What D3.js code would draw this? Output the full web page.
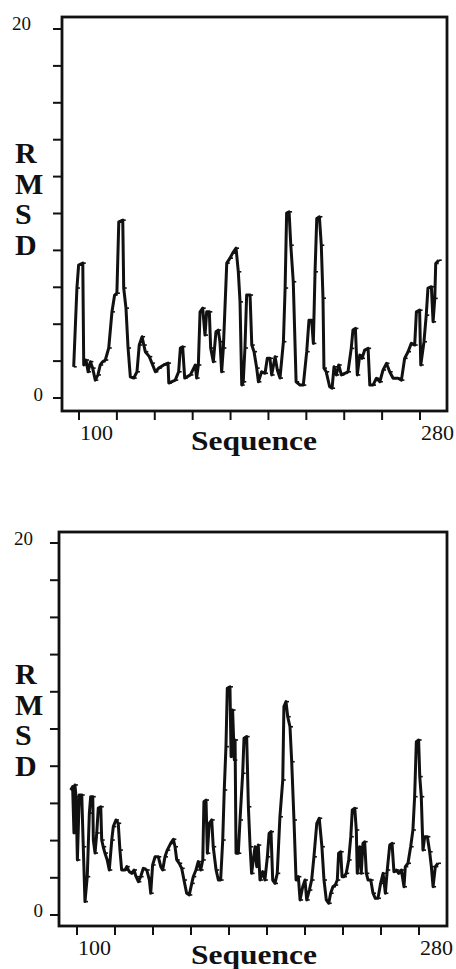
<!DOCTYPE html>
<html>
<head>
<meta charset="utf-8">
<script src="https://cdn.jsdelivr.net/npm/d3@7"></script>
<style>
  body { margin: 0; background: #fff; }
  text { font-family: "Liberation Serif", "Times New Roman", Times, serif; fill: #111; }
</style>
</head>
<body>
<svg id="chart" width="456" height="969"></svg>
<script>
// residue number / RMSD readings, upper panel
const seqTop = [97.2, 98.9, 99.8, 102.0, 102.5, 103.7, 104.8, 106.0, 107.2, 108.6, 110.0, 111.2, 112.5, 113.9,
  115.7, 117.4, 118.8, 120.0, 121.0, 123.1, 123.6, 124.8, 125.9, 127.1, 128.9, 130.6, 131.8, 133.3, 134.2,
  135.0, 137.1, 138.5, 140.3, 142.1, 144.7, 147.0, 147.4, 150.8, 152.6, 153.5, 154.7, 155.8, 158.8, 161.4,
  162.1, 163.0, 163.9, 165.3, 166.5, 167.4, 168.8, 169.5, 170.9, 172.3, 173.5, 174.4, 175.3, 176.2, 178.0,
  179.7, 181.1, 182.9, 184.1, 185.0, 185.9, 186.7, 187.6, 188.5, 190.3, 191.2, 192.4, 193.8, 194.7, 196.4,
  198.2, 199.4, 200.8, 201.7, 203.5, 204.7, 206.1, 207.9, 208.8, 209.6, 210.9, 211.8, 213.1, 214.6, 216.7,
  218.4, 220.2, 221.4, 222.8, 223.7, 224.6, 225.5, 226.9, 227.9, 228.8, 229.3, 230.5, 232.3, 233.6, 234.6,
  235.8, 237.1, 238.5, 240.3, 242.0, 243.7, 244.6, 245.9, 246.9, 248.2, 249.4, 250.8, 252.6, 253.5, 255.2,
  257.0, 258.8, 260.5, 262.3, 264.0, 265.8, 268.4, 270.2, 271.9, 273.7, 275.4, 277.2, 278.1, 279.8, 280.4,
  282.1, 283.3, 284.2, 286.0, 286.9, 287.8, 288.3, 289.9];
const rmsdTop = [1.69, 5.96, 7.20, 7.31, 1.79, 2.06, 1.42, 1.97, 1.62, 0.97, 1.25, 1.79, 1.97, 2.06,
  2.71, 4.67, 5.58, 5.68, 9.55, 9.64, 5.96, 4.87, 2.71, 1.15, 1.08, 1.42, 2.87, 3.32, 2.87,
  2.51, 2.24, 1.89, 1.42, 1.62, 1.79, 1.89, 0.81, 0.97, 1.42, 2.71, 2.78, 1.08, 1.25, 1.79,
  1.08, 1.79, 4.67, 4.87, 3.41, 4.67, 4.67, 2.71, 1.97, 3.59, 3.68, 3.05, 1.42, 2.71, 7.31,
  7.58, 7.85, 8.12, 6.84, 5.21, 0.70, 0.88, 2.71, 5.58, 5.58, 2.87, 2.51, 1.62, 0.88, 1.42,
  1.34, 2.15, 2.15, 1.25, 2.24, 1.52, 1.08, 3.05, 5.96, 10.02, 10.09, 8.28, 6.30, 0.88, 0.70,
  0.70, 2.51, 4.22, 4.22, 2.96, 6.84, 9.73, 9.82, 8.28, 5.41, 1.62, 1.42, 0.61, 0.53, 1.69,
  1.25, 1.79, 1.25, 1.34, 1.42, 2.69, 3.68, 3.77, 1.25, 2.33, 2.15, 2.60, 2.69, 0.70, 0.70,
  1.07, 0.88, 1.52, 1.88, 1.42, 1.07, 1.07, 0.97, 2.15, 2.51, 2.96, 2.87, 4.67, 4.76, 1.79,
  3.05, 4.49, 5.96, 6.03, 4.13, 5.40, 7.29, 7.47];

// residue number / RMSD readings, lower panel
const seqBottom = [96.7, 97.7, 98.4, 98.9, 99.5, 100.2, 101.2, 102.5, 103.3, 104.2, 105.4, 106.5, 107.2, 108.3,
  108.6, 109.5, 110.4, 111.2, 112.5, 113.0, 113.8, 114.7, 115.9, 117.0, 118.3, 119.1, 120.5, 121.7, 122.6,
  123.5, 125.3, 126.2, 127.5, 128.8, 130.0, 131.1, 132.3, 133.5, 134.9, 136.7, 138.1, 138.8, 139.8, 141.1,
  142.8, 144.1, 145.1, 146.3, 147.5, 149.3, 150.7, 151.6, 152.5, 153.8, 155.1, 156.3, 157.7, 159.1, 160.4,
  161.2, 162.6, 163.8, 165.1, 166.2, 166.8, 167.9, 168.6, 169.6, 170.9, 171.7, 173.2, 174.4, 175.6, 176.7,
  177.5, 178.4, 179.1, 180.5, 181.1, 181.9, 182.8, 183.2, 183.7, 184.9, 185.8, 187.2, 187.9, 189.3, 190.2,
  191.1, 191.9, 192.8, 193.7, 194.6, 195.4, 196.3, 197.7, 198.9, 200.2, 201.1, 202.1, 203.0, 204.2, 205.4,
  206.8, 208.3, 208.9, 210.0, 210.9, 212.1, 213.0, 214.2, 215.3, 216.5, 217.4, 218.8, 220.0, 220.9, 222.3,
  223.5, 224.7, 226.2, 227.5, 228.9, 230.0, 231.2, 232.5, 233.5, 234.7, 235.9, 237.0, 237.7, 238.8, 239.5,
  240.5, 241.7, 243.0, 244.1, 244.9, 246.2, 247.0, 247.5, 248.8, 249.6, 250.5, 251.4, 252.3, 253.2, 254.6,
  255.8, 257.0, 258.4, 259.8, 261.1, 262.3, 263.3, 264.6, 265.8, 266.8, 268.1, 269.3, 270.7, 272.1, 272.8,
  274.2, 275.6, 276.8, 277.7, 278.6, 279.8, 280.4, 281.2, 282.1, 283.0, 284.4, 285.6, 286.5, 287.4, 288.6,
  290.0];
const rmsdBottom = [6.72, 6.90, 4.41, 6.99, 6.36, 2.96, 6.45, 6.45, 3.67, 0.72, 2.06, 5.48, 6.36, 6.36,
  4.03, 3.33, 4.41, 5.75, 5.82, 4.03, 3.67, 3.33, 2.96, 2.42, 4.03, 4.75, 5.11, 4.93, 3.49,
  2.42, 2.42, 2.60, 2.33, 2.24, 2.42, 2.06, 1.79, 2.06, 2.51, 2.42, 1.88, 1.17, 2.69, 3.13,
  3.13, 2.60, 2.42, 3.13, 3.49, 3.85, 4.07, 3.67, 2.96, 2.78, 2.51, 1.88, 1.17, 1.08, 1.70,
  2.06, 2.42, 2.87, 2.42, 2.96, 6.09, 6.18, 3.32, 4.93, 5.11, 3.67, 2.42, 1.88, 1.88, 4.03,
  6.72, 9.05, 12.19, 12.27, 8.51, 11.02, 8.33, 9.41, 3.32, 3.32, 5.11, 7.62, 9.50, 9.59, 5.82,
  3.67, 2.24, 2.96, 3.67, 2.60, 3.76, 1.88, 2.33, 1.88, 3.13, 4.39, 4.48, 1.88, 1.70, 2.24,
  5.28, 7.26, 11.20, 11.47, 10.66, 10.12, 8.24, 5.11, 1.88, 2.06, 0.81, 1.52, 1.88, 0.81, 1.34,
  1.88, 3.13, 4.93, 5.20, 3.67, 1.88, 0.81, 0.63, 1.17, 1.52, 1.61, 1.88, 3.32, 3.40, 2.06,
  2.06, 2.24, 2.96, 4.21, 5.65, 5.74, 4.57, 2.24, 3.67, 2.24, 3.85, 3.94, 2.24, 1.88, 1.88,
  1.17, 0.90, 0.90, 1.70, 2.24, 1.17, 2.42, 3.76, 3.85, 2.33, 2.42, 2.24, 2.42, 1.52, 2.60,
  2.78, 3.67, 4.57, 6.36, 9.32, 9.41, 7.44, 6.36, 3.49, 4.21, 4.21, 3.40, 2.60, 1.52, 2.60,
  2.78];

const xTicks = [100, 120, 140, 160, 180, 200, 220, 240, 260, 280];
const xTickLabels = [100, 280];
const yTicks = [0, 2, 4, 6, 8, 10, 12, 14, 16, 18, 20];
const yTickLabels = [0, 20];
const yTitle = ["R", "M", "S", "D"];
const xTitle = "Sequence";

// panel geometry (pixels)
const panels = [
  { seq: seqTop, rmsd: rmsdTop, left: 62, right: 447, top: 17, bottom: 411,
    x100: 79, x280: 420, y0: 398, y20: 29, titleY: 163, seqY: 450,
    lab20: { x: 31, dy: 1 }, lab0: { x: 43, dy: 3 }, xLabY: 440 },
  { seq: seqBottom, rmsd: rmsdBottom, left: 59, right: 447, top: 532, bottom: 926,
    x100: 77, x280: 419, y0: 915, y20: 543, titleY: 684, seqY: 964,
    lab20: { x: 33, dy: 2 }, lab0: { x: 43, dy: 2 }, xLabY: 955 }
];

const svg = d3.select("#chart");

panels.forEach(p => {
  const x = d3.scaleLinear().domain([100, 280]).range([p.x100, p.x280]);
  const y = d3.scaleLinear().domain([0, 20]).range([p.y0, p.y20]);
  const g = svg.append("g");

  // frame
  g.append("rect")
    .attr("x", p.left).attr("y", p.top)
    .attr("width", p.right - p.left).attr("height", p.bottom - p.top)
    .attr("fill", "none").attr("stroke", "#111").attr("stroke-width", 2.8);

  // y ticks point out to the left
  g.selectAll(".yt").data(yTicks).enter().append("line")
    .attr("x1", p.left - 9).attr("x2", p.left)
    .attr("y1", d => y(d)).attr("y2", d => y(d))
    .attr("stroke", "#111").attr("stroke-width", 2);

  // x ticks point down
  g.selectAll(".xt").data(xTicks).enter().append("line")
    .attr("x1", d => x(d)).attr("x2", d => x(d))
    .attr("y1", p.bottom).attr("y2", p.bottom + 9)
    .attr("stroke", "#111").attr("stroke-width", 2);

  // tick labels
  g.append("text").attr("x", p.lab20.x).attr("y", y(20) + p.lab20.dy)
    .attr("text-anchor", "end").attr("font-size", 19).text(yTickLabels[1]);
  g.append("text").attr("x", p.lab0.x).attr("y", y(0) + p.lab0.dy)
    .attr("text-anchor", "end").attr("font-size", 19).text(yTickLabels[0]);
  g.selectAll(".xl").data(xTickLabels).enter().append("text")
    .attr("x", d => x(d) + 1).attr("y", p.xLabY)
    .attr("font-size", 22).text(d => d);

  // axis titles: RMSD stacked letter by letter
  const yt = g.append("text").attr("y", p.titleY)
    .attr("font-size", 30).attr("font-weight", "bold");
  yt.selectAll("tspan").data(yTitle).enter().append("tspan")
    .attr("x", 15).attr("dy", (d, i) => i === 0 ? 0 : 30.5).text(d => d);
  g.append("text").attr("x", 191).attr("y", p.seqY)
    .attr("font-size", 28).attr("font-weight", "bold")
    .attr("textLength", 126).attr("lengthAdjust", "spacingAndGlyphs")
    .text(xTitle);

  // RMSD trace
  const pts = p.seq.map((s, i) => [s, p.rmsd[i]]);
  g.append("path").datum(pts)
    .attr("fill", "none").attr("stroke", "#111").attr("stroke-width", 3)
    .attr("stroke-linejoin", "round")
    .attr("d", d3.line().x(d => x(d[0])).y(d => y(d[1])));

  g.selectAll(".pt").data(pts).enter().append("line")
    .attr("x1", d => x(d[0])).attr("x2", d => x(d[0]) + 3)
    .attr("y1", d => y(d[1])).attr("y2", d => y(d[1]))
    .attr("stroke", "#111").attr("stroke-width", 1.6);
});
</script>
</body>
</html>
